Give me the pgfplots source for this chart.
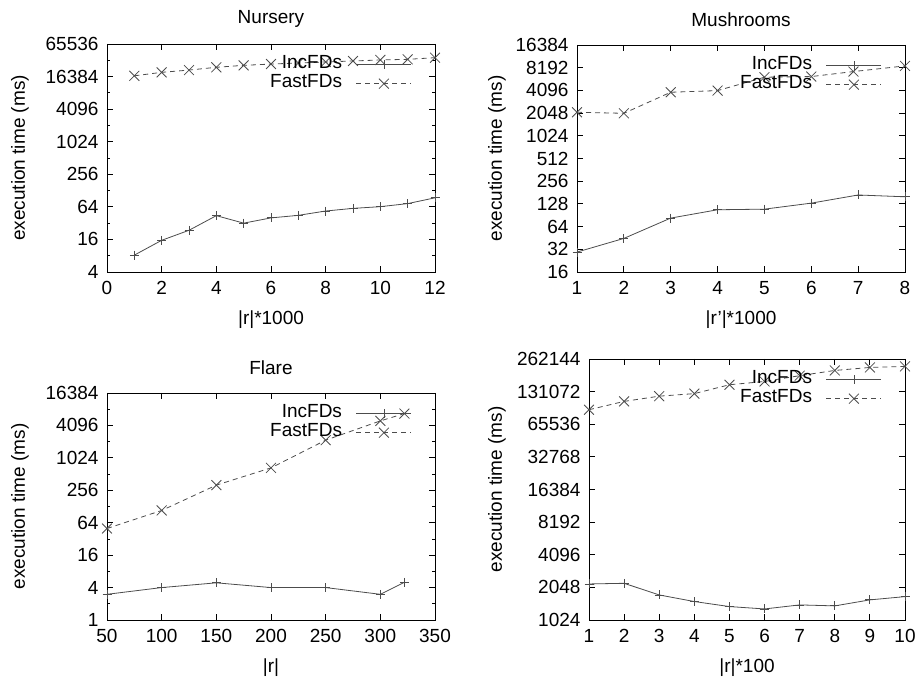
\documentclass[border=0pt]{standalone}
\usepackage{pgfplots}
\pgfplotsset{compat=1.18}
\usepackage{fontspec}
\setmainfont{Liberation Sans}

\pgfplotsset{
  legend image code/.code={
    \draw[#1, mark repeat=2, mark phase=2]
      plot coordinates {(0pt,0pt) (27.5pt,0pt) (55pt,0pt)};},
  every axis/.append style={
    scale only axis,
    tick align=inside,
    major tick length=6pt,
    axis line style={black, line width=0.8pt},
    every tick/.style={black, line width=0.8pt},
    clip=false,
    /pgf/number format/assume math mode=true,
    ylabel={execution time (ms)},
    xticklabel style={yshift=-3pt},
    yticklabel style={xshift=-2pt},
    xlabel style={at={(axis description cs:0.5,0)}, anchor=center, yshift=-48pt},
    title style={at={(axis description cs:0.5,1)}, anchor=center, yshift=19pt},
    legend plot pos=right,
    legend cell align=right,
    legend style={draw=none, fill=none,
      at={(axis description cs:1,1)}, anchor=north east,
      xshift=-23pt, yshift=-11pt, inner sep=0pt,
      column sep=14pt, row sep=0pt,
      nodes={inner sep=0pt, text height=13.5pt, text depth=5.5pt}},
    extra y tick style={major tick length=3pt},
    extra y tick labels={},
  },
  incfds/.style={color=black!70, line width=0.8pt, mark=+, mark size=4.5pt, mark options={solid}},
  fastfds/.style={color=black!70, line width=0.8pt, dash pattern=on 5pt off 4pt, mark=x, mark size=7pt, mark options={solid}},
}

\begin{document}
\fontsize{19}{22}\selectfont
\begin{tikzpicture}
  \path[use as bounding box] (0pt,0pt) rectangle (920pt,682pt);

  % Nursery
  \begin{axis}[ymode=log, log basis y=2,
    at={(107pt,410pt)}, anchor=south west,
    width=328pt, height=228pt,
    title={Nursery},
    xlabel={|r|*1000},
    xmin=0, xmax=12, xtick={0,2,...,12},
    ymin=4, ymax=65536,
    ytick={4,16,64,256,1024,4096,16384,65536},
    yticklabels={4,16,64,256,1024,4096,16384,65536},
    extra y ticks={8,32,128,512,2048,8192,32768},
    ylabel style={at={(axis description cs:-0.265,0.5)}, anchor=center},
  ]
    \addplot[incfds] coordinates {
      (1,8.2)(2,15.4)(3,23.6)(4,44)(5,32)(6,40)(7,44.6)(8,53.6)(9,60)(10,64.5)(11,73.5)(12,94)
    };
    \addlegendentry{IncFDs}
    \addplot[fastfds] coordinates {
      (1,16940)(2,19600)(3,21600)(4,24300)(5,26400)(6,27900)(7,29200)(8,30500)(9,31800)(10,33200)(11,34100)(12,36600)
    };
    \addlegendentry{FastFDs}
  \end{axis}

  % Mushrooms
  \begin{axis}[ymode=log, log basis y=2,
    at={(577pt,410pt)}, anchor=south west,
    width=328pt, height=227pt,
    title={Mushrooms},
    xlabel={|r'|*1000},
    xmin=1, xmax=8, xtick={1,...,8},
    ymin=16, ymax=16384,
    ytick={16,32,64,128,256,512,1024,2048,4096,8192,16384},
    yticklabels={16,32,64,128,256,512,1024,2048,4096,8192,16384},
    ylabel style={at={(axis description cs:-0.244,0.5)}, anchor=center},
  ]
    \addplot[incfds] coordinates {
      (1,29.4)(2,44.6)(3,83)(4,107)(5,109)(6,131)(7,168)(8,159)
    };
    \addlegendentry{IncFDs}
    \addplot[fastfds] coordinates {
      (1,2100)(2,2035)(3,3870)(4,4070)(5,6120)(6,6250)(6.9,7280)(8,8650)
    };
    \addlegendentry{FastFDs}
  \end{axis}

  % Flare
  \begin{axis}[ymode=log, log basis y=2,
    at={(107pt,62pt)}, anchor=south west,
    width=328pt, height=227pt,
    title={Flare},
    xlabel={|r|},
    xmin=50, xmax=350, xtick={50,100,...,350},
    ymin=1, ymax=16384,
    ytick={1,4,16,64,256,1024,4096,16384},
    yticklabels={1,4,16,64,256,1024,4096,16384},
    extra y ticks={2,8,32,128,512,2048,8192},
    ylabel style={at={(axis description cs:-0.265,0.5)}, anchor=center},
  ]
    \addplot[incfds] coordinates {
      (50,3)(100,4)(150,4.9)(200,4)(250,4)(300,3)(322,5)
    };
    \addlegendentry{IncFDs}
    \addplot[fastfds] coordinates {
      (50,50)(100,108)(150,319)(200,667)(250,2180)(300,4970)(322,6800)
    };
    \addlegendentry{FastFDs}
  \end{axis}

  % fourth
  \begin{axis}[ymode=log, log basis y=2,
    at={(589pt,62pt)}, anchor=south west,
    width=316pt, height=261pt,
    xlabel={|r|*100},
    xmin=1, xmax=10, xtick={1,...,10},
    ymin=1024, ymax=262144,
    ytick={1024,2048,4096,8192,16384,32768,65536,131072,262144},
    yticklabels={1024,2048,4096,8192,16384,32768,65536,131072,262144},
    ylabel style={at={(axis description cs:-0.291,0.5)}, anchor=center},
  ]
    \addplot[incfds] coordinates {
      (1,2202)(2,2233)(3,1743)(4,1516)(5,1362)(6,1295)(7,1411)(8,1382)(9,1570)(10,1683)
    };
    \addlegendentry{IncFDs}
    \addplot[fastfds] coordinates {
      (1,89200)(2,106500)(3,119000)(4,125600)(5,151700)(6,162600)(7,184000)(8,205500)(9,219000)(10,224000)
    };
    \addlegendentry{FastFDs}
  \end{axis}
\end{tikzpicture}
\end{document}
